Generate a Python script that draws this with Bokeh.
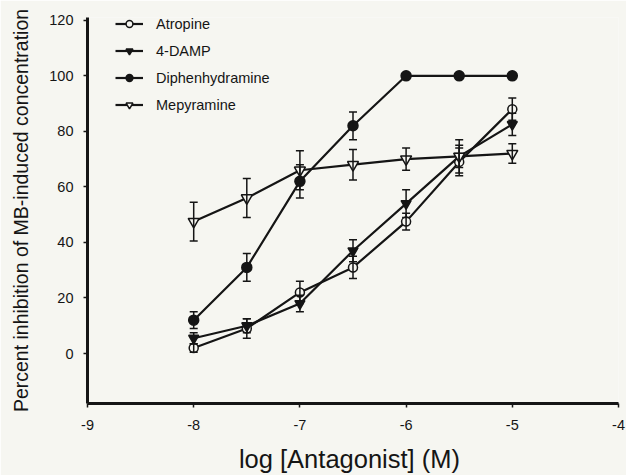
from bokeh.plotting import figure
from bokeh.models import (ColumnDataSource, Whisker, TeeHead, Legend, LegendItem,
                          FixedTicker, Range1d)
from bokeh.embed import file_html
from bokeh.resources import INLINE

# ---- data ----
log_conc = [-8.0, -7.5, -7.0, -6.5, -6.0, -5.5, -5.0]

atropine = [2.0, 9.0, 22.0, 31.0, 47.5, 69.0, 88.0]
atropine_err = [1.5, 3.5, 4.0, 4.0, 3.0, 5.0, 4.0]

damp = [5.5, 10.0, 18.0, 37.0, 54.0, 71.0, 82.5]
damp_err = [2.0, 2.5, 3.0, 4.0, 5.0, 4.0, 4.0]

diphen = [12.0, 31.0, 62.0, 82.0, 100.0, 100.0, 100.0]
diphen_err = [3.0, 5.0, 6.0, 5.0, 0.0, 0.0, 0.0]

mepyramine = [47.5, 56.0, 66.0, 68.0, 70.0, 71.0, 72.0]
mepyramine_err = [7.0, 7.0, 7.0, 5.5, 4.0, 6.0, 3.5]

series_names = ["Atropine", "4-DAMP", "Diphenhydramine", "Mepyramine"]
x_ticks = [-9, -8, -7, -6, -5, -4]
y_ticks = [0, 20, 40, 60, 80, 100, 120]

INK = "#151515"
BG = "#f6f6f1"
FONT = "Liberation Sans"

p = figure(width=626, height=475, output_backend="svg", toolbar_location=None,
           x_range=Range1d(-9, -4), y_range=Range1d(-18, 121),
           min_border_left=87, min_border_top=17, min_border_right=8,
           min_border_bottom=72)
p.background_fill_color = BG
p.border_fill_color = BG
p.outline_line_color = None
p.grid.visible = False

for ax in (p.xaxis[0], p.yaxis[0]):
    ax.axis_line_width = 3
    ax.axis_line_color = INK
    ax.major_tick_line_color = INK
    ax.major_tick_line_width = 1.5
    ax.major_tick_out = 4
    ax.major_tick_in = 0
    ax.minor_tick_line_color = None
    ax.major_label_text_font = FONT
    ax.major_label_text_font_size = "14.5px"
    ax.major_label_text_color = INK
    ax.axis_label_text_font = FONT
    ax.axis_label_text_font_style = "normal"
    ax.axis_label_text_color = INK

p.xaxis.ticker = FixedTicker(ticks=x_ticks)
p.yaxis.ticker = FixedTicker(ticks=y_ticks)
p.xaxis.major_label_overrides = {t: str(t) for t in x_ticks}
p.xaxis.major_label_standoff = 12
p.yaxis.major_label_standoff = 10
p.xaxis.axis_label = "log [Antagonist]  (M)"
p.xaxis.axis_label_text_font_size = "25.5px"
p.xaxis.axis_label_standoff = 12
p.yaxis.axis_label = "Percent inhibition of MB-induced concentration"
p.yaxis.axis_label_text_font_size = "19.5px"
p.yaxis.axis_label_standoff = 14

specs = [
    (atropine, atropine_err, "circle", BG, 9),
    (damp, damp_err, "inverted_triangle", INK, 10),
    (diphen, diphen_err, "circle", INK, 10),
    (mepyramine, mepyramine_err, "inverted_triangle", BG, 11),
]

items = []
for name, (vals, errs, marker, fill, size) in zip(series_names, specs):
    xs = [x for x, e in zip(log_conc, errs) if e > 0]
    up = [v + e for v, e in zip(vals, errs) if e > 0]
    lo = [v - e for v, e in zip(vals, errs) if e > 0]
    wsrc = ColumnDataSource(dict(x=xs, upper=up, lower=lo))
    p.add_layout(Whisker(source=wsrc, base="x", upper="upper", lower="lower",
                         line_color=INK, line_width=1.5, level="glyph",
                         upper_head=TeeHead(size=8, line_color=INK, line_width=1.5),
                         lower_head=TeeHead(size=8, line_color=INK, line_width=1.5)))
    src = ColumnDataSource(dict(x=log_conc, y=vals))
    lr = p.line("x", "y", source=src, line_color=INK, line_width=2.2)
    sr = p.scatter("x", "y", source=src, marker=marker, size=size,
                   fill_color=fill, line_color=INK, line_width=1.5)
    items.append(LegendItem(label=name, renderers=[lr, sr]))

legend = Legend(items=items, location=(28, 290), orientation="vertical",
                background_fill_alpha=0, border_line_color=None,
                padding=0, margin=0, spacing=10,
                glyph_width=28, glyph_height=17, label_height=17,
                label_standoff=13,
                label_text_font=FONT, label_text_font_size="14.5px",
                label_text_color=INK)
p.add_layout(legend, "center")

open("out.html", "w").write(file_html(p, INLINE))
